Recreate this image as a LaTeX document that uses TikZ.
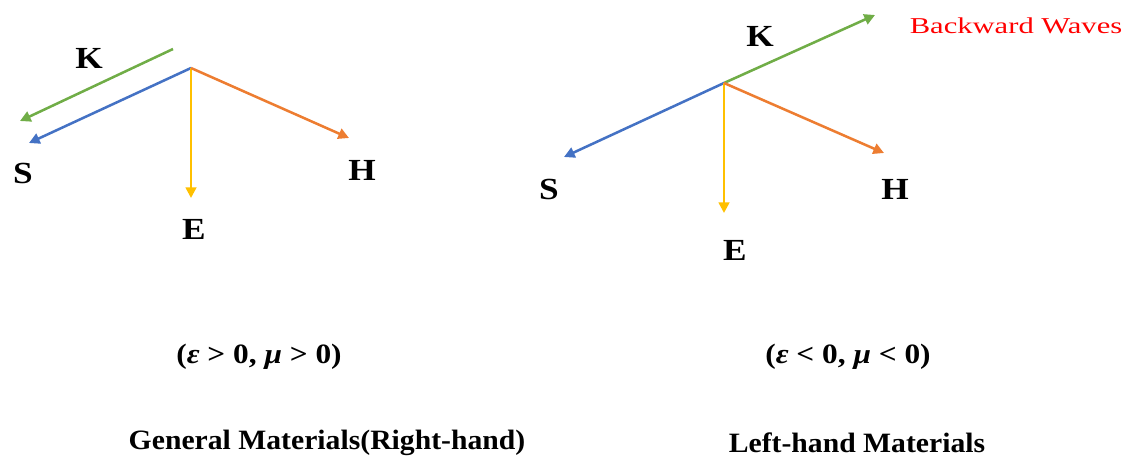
\documentclass[tikz,border=0pt]{standalone}
\usepackage{fontspec}
\setmainfont{Liberation Serif}
\usepackage{tikz}
\usetikzlibrary{arrows.meta}
\definecolor{kgreen}{HTML}{70AD47}
\definecolor{sblue}{HTML}{4472C4}
\definecolor{horange}{HTML}{ED7D31}
\definecolor{eyellow}{HTML}{FFC000}
\newcommand{\widetxt}[2]{\scalebox{#1}[1]{#2}}
\begin{document}
\begin{tikzpicture}[
    x=0.75pt, y=-0.75pt,
    vec/.style={line width=1.9pt, -{Triangle[length=8pt,width=8pt]}},
    lbl/.style={font=\bfseries\fontsize{23}{27}\selectfont, inner sep=0pt},
    caption/.style={font=\bfseries\fontsize{21}{25}\selectfont, inner sep=0pt}
]
\useasboundingbox (0,0) rectangle (1139,461);
% general (right-hand) material
\coordinate (o1) at (191,68);
\coordinate (k1s) at (173,49);
\coordinate (k1e) at (20,121);
\coordinate (s1) at (29,143);
\coordinate (e1) at (191,198);
\coordinate (h1) at (349,138);
\draw[vec, kgreen] (k1s) -- (k1e);
\draw[vec, sblue] (o1) -- (s1);
\draw[vec, eyellow] (o1) -- (e1);
\draw[vec, horange] (o1) -- (h1);
\node[lbl] (klbl1) at (89,58) {\widetxt{1.15}{K}};
\node[lbl] (slbl1) at (23,173) {\widetxt{1.15}{S}};
\node[lbl] (hlbl1) at (362,170) {\widetxt{1.15}{H}};
\node[lbl] (elbl1) at (194,229) {\widetxt{1.15}{E}};
% left-hand material
\coordinate (o2) at (724,83);
\coordinate (k2) at (875,15);
\coordinate (s2) at (564,157);
\coordinate (e2) at (724,213);
\coordinate (h2) at (884,153);
\draw[vec, kgreen] (o2) -- (k2);
\draw[vec, sblue] (o2) -- (s2);
\draw[vec, eyellow] (o2) -- (e2);
\draw[vec, horange] (o2) -- (h2);
\node[lbl] (klbl2) at (760,36) {\widetxt{1.15}{K}};
\node[lbl] (slbl2) at (549,189) {\widetxt{1.15}{S}};
\node[lbl] (hlbl2) at (895,189) {\widetxt{1.15}{H}};
\node[lbl] (elbl2) at (735,250) {\widetxt{1.15}{E}};
\node[font=\fontsize{17}{20}\selectfont, text=red, inner sep=0pt] (bw) at (1016,26) {\widetxt{1.35}{Backward Waves}};
% captions
\node[caption] (cond1) at (259,357) {\widetxt{1.12}{(\textit{ε} > 0, \textit{μ} > 0)}};
\node[caption] (cond2) at (848,357) {\widetxt{1.12}{(\textit{ε} < 0, \textit{μ} < 0)}};
\node[caption] (name1) at (327,443) {\widetxt{1.06}{General Materials(Right-hand)}};
\node[caption] (name2) at (857,443) {\widetxt{1.06}{Left-hand Materials}};
\end{tikzpicture}
\end{document}
